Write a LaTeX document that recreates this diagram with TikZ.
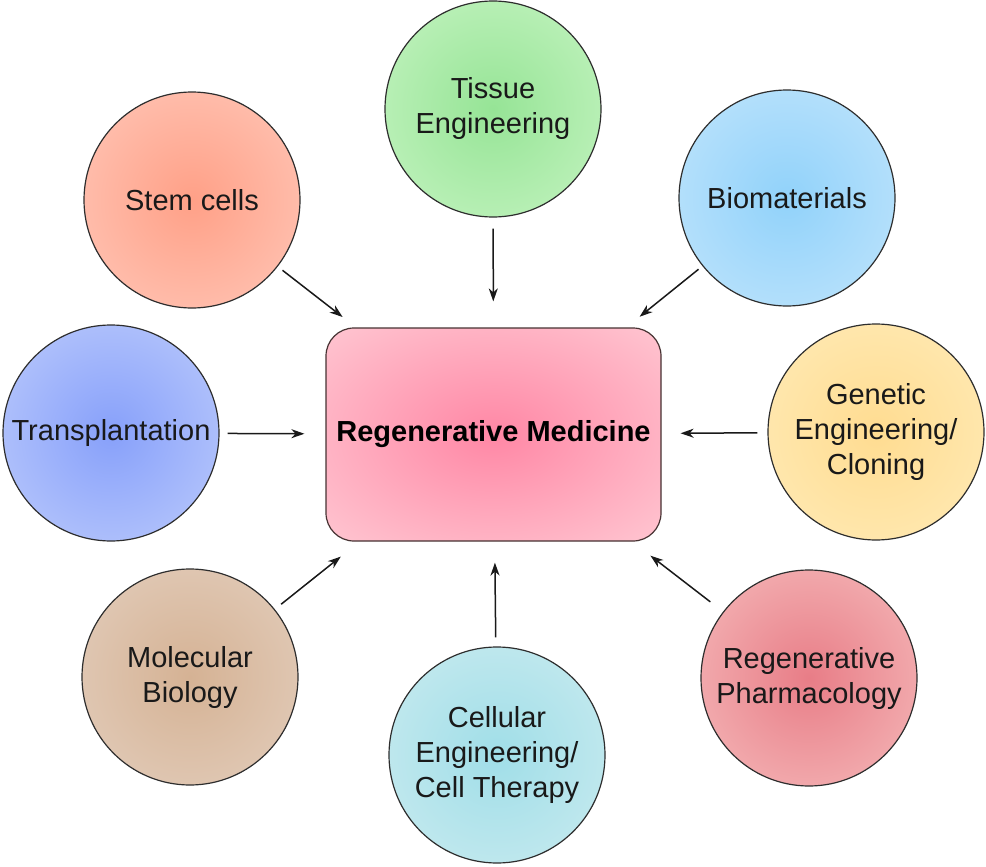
\documentclass[tikz,border=0pt]{standalone}
\usepackage{fontspec}
\setmainfont{Liberation Sans}
\usetikzlibrary{arrows.meta}
\makeatletter
\pgfdeclareradialshading[tikz@radial@inner,tikz@radial@outer]{softradial}{\pgfpointorigin}{color(0bp)=(tikz@radial@inner); color(38bp)=(tikz@radial@outer); color(50bp)=(tikz@radial@outer)}
\makeatother
\definecolor{tisIn}{RGB}{150,228,150}\definecolor{tisOut}{RGB}{200,245,196}
\definecolor{stemIn}{RGB}{255,160,135}\definecolor{stemOut}{RGB}{255,202,188}
\definecolor{bioIn}{RGB}{145,210,250}\definecolor{bioOut}{RGB}{196,230,252}
\definecolor{traIn}{RGB}{135,160,250}\definecolor{traOut}{RGB}{192,206,252}
\definecolor{genIn}{RGB}{255,220,145}\definecolor{genOut}{RGB}{255,236,186}
\definecolor{molIn}{RGB}{213,178,148}\definecolor{molOut}{RGB}{228,208,192}
\definecolor{celIn}{RGB}{160,222,232}\definecolor{celOut}{RGB}{205,236,240}
\definecolor{phaIn}{RGB}{232,125,135}\definecolor{phaOut}{RGB}{246,190,190}
\definecolor{regIn}{RGB}{255,135,165}\definecolor{regOut}{RGB}{255,202,212}
\definecolor{rim}{RGB}{45,45,45}
\definecolor{hubrim}{RGB}{70,50,50}
\tikzset{
  bubble/.style 2 args={circle, draw=rim, line width=1.2pt, minimum size=216pt,
    inner sep=0pt, align=center, inner color=#1, outer color=#2, shading=softradial,
    font=\fontsize{29}{35}\selectfont, text=black!90},
  hub/.style={rectangle, rounded corners=28pt, draw=hubrim, line width=1.2pt,
    minimum width=335pt, minimum height=213pt, inner color=regIn, outer color=regOut,
    shading=softradial, font=\bfseries\fontsize{29}{35}\selectfont, text=black},
  link/.style={-{Stealth[length=13pt,width=9pt,inset=4pt]}, line width=1.5pt, draw=black!90}
}
\begin{document}
\begin{tikzpicture}[x=1pt,y=-1pt]
\useasboundingbox (0,0) rectangle (986,867);
\node[hub] (reg) at (493.5,434.5) {Regenerative Medicine};
\node[bubble={tisIn}{tisOut}] (tis) at (493,109) {Tissue\\Engineering};
\node[bubble={stemIn}{stemOut}] (stem) at (192,200) {Stem cells};
\node[bubble={bioIn}{bioOut}] (bio) at (787,198) {Biomaterials};
\node[bubble={traIn}{traOut}] (tra) at (111,433) {Transplantation};
\node[bubble={genIn}{genOut}] (gen) at (876,432) {Genetic\\Engineering/\\Cloning};
\node[bubble={molIn}{molOut}] (mol) at (190,677) {Molecular\\Biology};
\node[bubble={celIn}{celOut}] (cel) at (497,755) {Cellular\\Engineering/\\Cell Therapy};
\node[bubble={phaIn}{phaOut}] (pha) at (809,678) {Regenerative\\Pharmacology};
\draw[link, shorten <=6pt, shorten >=17pt] (stem) -- (reg);
\draw[link, shorten <=11pt, shorten >=26pt] (tis) -- (reg);
\draw[link, shorten <=5pt, shorten >=17pt] (bio) -- (reg);
\draw[link, shorten <=8pt, shorten >=21pt] (tra) -- (reg);
\draw[link, shorten <=10pt, shorten >=19pt] (gen) -- (reg);
\draw[link, shorten <=8pt, shorten >=24pt] (mol) -- (reg);
\draw[link, shorten <=9pt, shorten >=21pt] (cel) -- (reg);
\draw[link, shorten <=16pt, shorten >=23pt] (pha) -- (reg);
\end{tikzpicture}
\end{document}
